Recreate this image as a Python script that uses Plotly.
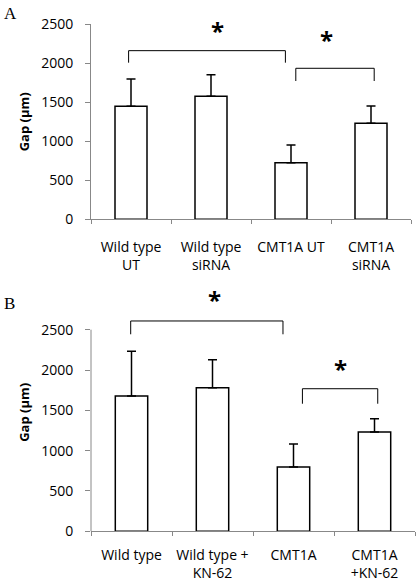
import plotly.graph_objects as go

# ---------------- data ----------------
cats_a = ["Wild type<br>UT", "Wild type<br>siRNA", "CMT1A UT", "CMT1A<br>siRNA"]
vals_a = [1450, 1577, 726, 1231]
err_a = [350, 277, 227, 222]

cats_b = ["Wild type", "Wild type +<br>KN-62", "CMT1A", "CMT1A<br>+KN-62"]
vals_b = [1678, 1781, 797, 1231]
err_b = [554, 347, 286, 164]

# significance brackets: (x0, x1, y_bar, y_end), star (x, y)
brackets_a = [(-0.03, 1.93, 2162, 2008), (2.06, 3.04, 1936, 1773)]
stars_a = [(1.08, 2420), (2.44, 2300)]
brackets_b = [(-0.01, 1.87, 2608, 2443), (2.11, 3.04, 1768, 1582)]
stars_b = [(1.03, 2870), (2.58, 2020)]

y_ticks = [0, 500, 1000, 1500, 2000, 2500]
y_max_a = 2500
y_max_b = 2950

FONT = "Open Sans, Noto Sans, sans-serif"

# ---------------- layout geometry ----------------
W, H = 416, 584
xdom_a = [91 / W, 411 / W]
xdom_b = [91 / W, 415 / W]
ydom_a = [1 - 219.3 / H, 1 - 24.3 / H]
ydom_b = [1 - 531.3 / H, 1 - 293.4 / H]

fig = go.Figure()

def add_panel(cats, vals, errs, xa, ya):
    fig.add_trace(go.Bar(
        x=cats, y=vals, width=0.4,
        marker=dict(color="white", line=dict(color="black", width=1.5)),
        error_y=dict(type="data", array=errs, arrayminus=[0] * len(errs),
                     symmetric=False, color="black", thickness=1.5, width=4.5),
        xaxis=xa, yaxis=ya, showlegend=False, hoverinfo="skip",
    ))

add_panel(cats_a, vals_a, err_a, "x", "y")
add_panel(cats_b, vals_b, err_b, "x2", "y2")

shapes = []
annotations = []

def add_brackets(brackets, stars, xr, yr):
    for x0, x1, yb, ye in brackets:
        shapes.append(dict(type="path", xref=xr, yref=yr,
                           path=f"M {x0},{ye} L {x0},{yb} L {x1},{yb} L {x1},{ye}",
                           line=dict(color="black", width=1)))
    for sx, sy in stars:
        annotations.append(dict(x=sx, y=sy, xref=xr, yref=yr, text="<b>*</b>",
                                showarrow=False, yanchor="middle",
                                font=dict(family=FONT, size=24, color="black")))

add_brackets(brackets_a, stars_a, "x", "y")
add_brackets(brackets_b, stars_b, "x2", "y2")

# y axis line for panel B (only up to 2500)
y_line_top_b = ydom_b[0] + (2500 / y_max_b) * (ydom_b[1] - ydom_b[0])
shapes.append(dict(type="line", xref="paper", yref="paper",
                   x0=xdom_b[0], x1=xdom_b[0], y0=ydom_b[0], y1=y_line_top_b,
                   line=dict(color="#888888", width=1)))

# panel letters
annotations.append(dict(x=2 / W, y=1 - 2 / H, xref="paper", yref="paper", text="A",
                        showarrow=False, xanchor="left", yanchor="top",
                        font=dict(family="Liberation Serif, serif", size=17, color="black")))
annotations.append(dict(x=2 / W, y=1 - 292 / H, xref="paper", yref="paper", text="B",
                        showarrow=False, xanchor="left", yanchor="top",
                        font=dict(family="Liberation Serif, serif", size=17, color="black")))

xaxis_common = dict(
    type="category", showline=True, linecolor="#888888", linewidth=1,
    ticks="outside", tickson="boundaries", ticklen=4, tickcolor="#888888",
    tickfont=dict(family=FONT, size=14, color="black"), tickangle=0,
    showgrid=False, zeroline=False, fixedrange=True,
    automargin=False,
)
yaxis_common = dict(
    tickvals=y_ticks, ticks="outside", ticklen=5, tickcolor="#888888",
    tickfont=dict(family=FONT, size=14, color="black"),
    showgrid=False, zeroline=False, ticklabelstandoff=9, automargin=False,
    fixedrange=True,
    title=dict(text="<b>Gap (µm)</b>", font=dict(family=FONT, size=13, color="black"),
               standoff=8),
)

fig.update_layout(
    width=W, height=H,
    margin=dict(l=0, r=0, t=0, b=0, autoexpand=False),
    paper_bgcolor="white", plot_bgcolor="white",
    bargap=0.6,
    xaxis=dict(domain=xdom_a, anchor="y", range=[-0.5, 3.5], ticklabelstandoff=15,
               **xaxis_common),
    yaxis=dict(domain=ydom_a, anchor="x", range=[0, y_max_a],
               showline=True, linecolor="#888888", linewidth=1, **yaxis_common),
    xaxis2=dict(domain=xdom_b, anchor="y2", range=[-0.5, 3.5], ticklabelstandoff=11,
                **xaxis_common),
    yaxis2=dict(domain=ydom_b, anchor="x2", range=[0, y_max_b],
                showline=False, **yaxis_common),
    shapes=shapes,
    annotations=annotations,
)

fig.write_html("out.html", config={"displayModeBar": False},
               post_script="document.body.style.margin='0';")
